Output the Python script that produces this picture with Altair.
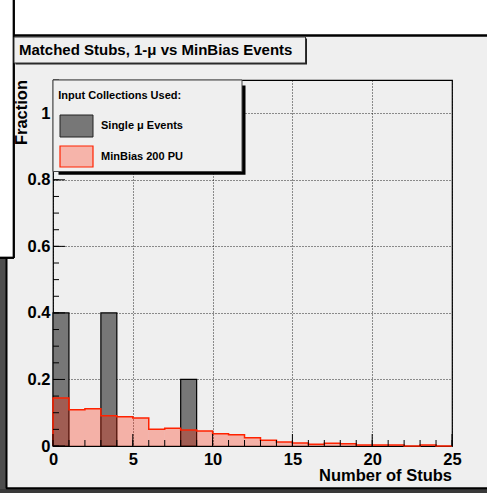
import altair as alt
import pandas as pd

# ---- data ----
bin_lo = list(range(25))
mu_values = [0.4, 0, 0, 0.4, 0, 0, 0, 0, 0.2, 0, 0, 0, 0, 0, 0, 0, 0, 0, 0, 0, 0, 0, 0, 0, 0]
minbias_values = [0.144, 0.109, 0.112, 0.091, 0.088, 0.084, 0.050, 0.053, 0.048, 0.045,
                  0.037, 0.034, 0.025, 0.017, 0.012, 0.009, 0.005, 0.008, 0.007, 0.003,
                  0.003, 0.003, 0.0, 0.003, 0.0]
x_labels = [0, 5, 10, 15, 20, 25]
y_labels = [0, 0.2, 0.4, 0.6, 0.8, 1.0]
x_minor = list(range(26))
y_minor = [round(i * 0.05, 2) for i in range(23)]

title_text = "Matched Stubs, 1-\u03bc vs MinBias Events"
legend_header = "Input Collections Used:"
series_names = ["Single \u03bc Events", "MinBias 200 PU"]
x_title = "Number of Stubs"
y_title = "Fraction"

W, H = 399, 366
FONT = "Liberation Sans"

mu_df = pd.DataFrame({"lo": bin_lo, "hi": [b + 1 for b in bin_lo], "v": mu_values, "z": 0.0})
mu_df = mu_df[mu_df.v > 0]
mb_df = pd.DataFrame({"lo": bin_lo, "hi": [b + 1 for b in bin_lo], "v": minbias_values, "z": 0.0})
step_df = pd.DataFrame({
    "edge": [0] + bin_lo + [25],
    "v": [0] + minbias_values + [0],
    "i": list(range(len(bin_lo) + 2)),
})
xt_df = pd.DataFrame({"t": x_minor})
yt_df = pd.DataFrame({"t": y_minor})
one = pd.DataFrame({"a": [0]})

xs = alt.Scale(domain=[0, 25], nice=False, zero=False)
ys = alt.Scale(domain=[0, 1.1], nice=False)
x_axis = alt.Axis(values=x_labels, title=None, ticks=False, tickSize=0, domain=False,
                  labelFont=FONT, labelFontWeight="bold", labelFontSize=16.5, labelColor="#000",
                  labelPadding=5, labelFlush=False, labelOverlap=False,
                  grid=True, gridDash=[1, 2], gridColor="#000", gridOpacity=0.85, gridWidth=1)
y_axis = alt.Axis(values=y_labels, title=None, ticks=False, tickSize=0, domain=False, format="~g",
                  labelFont=FONT, labelFontWeight="bold", labelFontSize=16.5, labelColor="#000",
                  labelPadding=3, labelFlush=False, labelOverlap=False,
                  grid=True, gridDash=[1, 2], gridColor="#000", gridOpacity=0.85, gridWidth=1)


def rect(x1, x2, y1, y2, fill, stroke=None, sw=0):
    kw = dict(fill=fill)
    if stroke:
        kw.update(stroke=stroke, strokeWidth=sw)
    return alt.Chart(one).mark_rect(**kw).encode(
        x=alt.value(x1), x2=alt.value(x2), y=alt.value(y1), y2=alt.value(y2))


def rule(x1, x2, y1, y2, color="#000", sw=1):
    return alt.Chart(one).mark_rule(color=color, strokeWidth=sw).encode(
        x=alt.value(x1), x2=alt.value(x2), y=alt.value(y1), y2=alt.value(y2))


def text(s, x, y, size, align="left", angle=None):
    kw = dict(font=FONT, fontWeight="bold", fontSize=size, align=align, baseline="middle", color="#000")
    if angle is not None:
        kw["angle"] = angle
    return alt.Chart(one).mark_text(**kw).encode(
        x=alt.value(x), y=alt.value(y), text=alt.value(s))


# window decorations around the canvas (plot coords: origin at plot top-left)
deco = [
    rect(-53, 434, -80, -44.5, "#ffffff"),
    rect(-53, -39.2, -80, 177.5, "#ffffff"),
    rect(-53, -47, 177.5, 413, "#4d4d4d"),
    rect(-53, 434, 409, 413, "#3a3a3a"),
    rule(-39.2, -39.2, -80, 178, sw=2.3),
    rule(-39.2, 434, -44.5, -44.5, sw=2.5),
    rule(-53, -39, 177.8, 177.8, sw=2.3),
    rule(-46.5, -46.5, 177.5, 408.5, sw=2),
    rule(-47, 434, 408.3, 408.3, sw=2),
    # title box
    rect(-37.5, 254, -41.5, -15.5, "#222222"),
    rect(-39, 252.5, -43, -17, "#efefef", "#333333", 1),
    text(title_text, -34, -30.5, 15),
]

mu_bars = alt.Chart(mu_df).mark_rect(fill="#777777", stroke="#000", strokeWidth=1.2).encode(
    x=alt.X("lo:Q", scale=xs, axis=x_axis), x2="hi:Q",
    y=alt.Y("v:Q", scale=ys, axis=y_axis), y2="z:Q")

mb_fill = alt.Chart(mb_df).mark_rect(fill="#ff2000", fillOpacity=0.3, strokeWidth=0).encode(
    x=alt.X("lo:Q", scale=xs, axis=x_axis), x2="hi:Q",
    y=alt.Y("v:Q", scale=ys, axis=y_axis), y2="z:Q")

mb_line = alt.Chart(step_df).mark_line(color="#ff2200", strokeWidth=1.5, interpolate="step-after").encode(
    x=alt.X("edge:Q", scale=xs, axis=x_axis),
    y=alt.Y("v:Q", scale=ys, axis=y_axis),
    order="i:Q")

legend = [
    rect(5.5, 192.5, 5.5, 94.7, "#000000"),
    rect(0, 189, 0, 91.5, "#efefef", "#444444", 1),
    text(legend_header, 5.3, 15.5, 11),
    rect(7, 40, 35, 57, "#777777", "#222222", 1),
    text(series_names[0], 48, 46, 11),
    rect(7, 40, 66, 87, "#f6b4aa", "#ff2200", 1.2),
    text(series_names[1], 48, 76.7, 11),
]

x_min_ticks = alt.Chart(xt_df).mark_rule(color="#000", strokeWidth=1).encode(
    x=alt.X("t:Q", scale=xs, axis=x_axis), y=alt.value(H), y2=alt.value(H - 6))
x_maj_ticks = alt.Chart(xt_df).transform_filter("datum.t % 5 == 0").mark_rule(color="#000", strokeWidth=1).encode(
    x=alt.X("t:Q", scale=xs, axis=x_axis), y=alt.value(H), y2=alt.value(H - 12))
y_min_ticks = alt.Chart(yt_df).mark_rule(color="#000", strokeWidth=1).encode(
    y=alt.Y("t:Q", scale=ys, axis=y_axis), x=alt.value(0), x2=alt.value(6))
y_maj_ticks = alt.Chart(yt_df).transform_filter("abs(datum.t*5 - round(datum.t*5)) < 0.001").mark_rule(
    color="#000", strokeWidth=1).encode(
    y=alt.Y("t:Q", scale=ys, axis=y_axis), x=alt.value(0), x2=alt.value(12))

titles = [
    text(x_title, W, 396, 16.5, align="right"),
    text(y_title, -31.5, 0, 16.5, align="right", angle=270),
]

chart = alt.layer(
    *deco, mu_bars, mb_fill, mb_line,
    x_min_ticks, x_maj_ticks, y_min_ticks, y_maj_ticks, *legend, *titles
).properties(
    width=W, height=H,
    autosize=alt.AutoSizeParams(type="none"),
    padding={"left": 53, "top": 80, "right": 35, "bottom": 47},
).configure(background="#efefef").configure_view(stroke="#000", strokeWidth=1.2)

chart.save("out.html", embed_options={"renderer": "svg", "actions": False})
